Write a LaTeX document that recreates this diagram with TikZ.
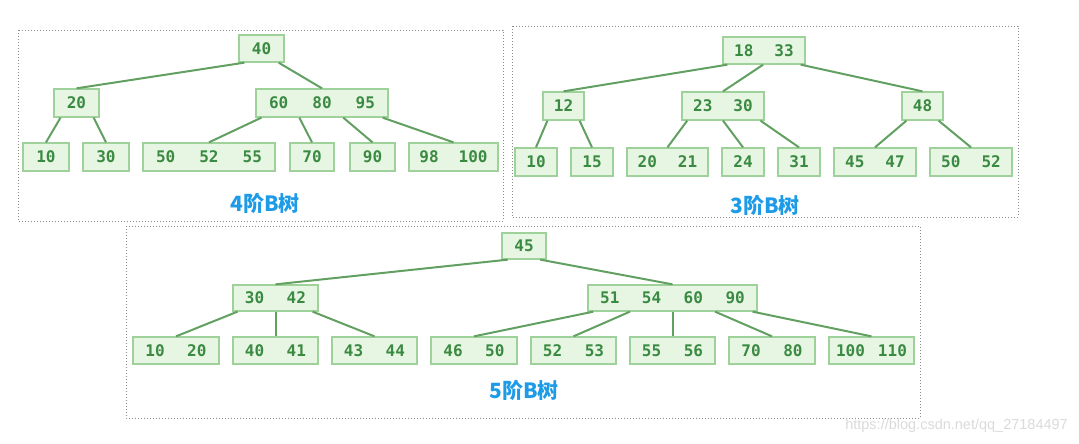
\documentclass[tikz,border=0pt]{standalone}
\usepackage{fontspec}
\usetikzlibrary{calc}
\newfontfamily\keyfont{DejaVu Sans Mono}
\newfontfamily\cjkfont{Noto Sans CJK SC}
\newfontfamily\wmfont{Liberation Sans}
\definecolor{bfill}{HTML}{E7F5E3}
\definecolor{bborder}{HTML}{9FD19A}
\definecolor{btext}{HTML}{3A8A42}
\definecolor{bedgecol}{HTML}{62A062}
\definecolor{tlabel}{HTML}{1E9BE6}
\definecolor{framecol}{HTML}{8C8C8C}
\definecolor{wmcol}{HTML}{DADADA}
\newcommand\kg[1]{\hspace{#1pt}}
\newcommand\bedgeline[3]{\draw[bedge] ($(#1.south west)!#2!(#1.south east)$) -- (#3.north);}
\begin{document}
\begin{tikzpicture}[x=1pt,y=-1pt,
  bnode/.style={draw=bborder, fill=bfill, line width=1.3pt, inner sep=0pt,
    minimum height=27pt, text=btext, font=\keyfont\bfseries\fontsize{16}{18}\selectfont},
  bedge/.style={draw=bedgecol, line width=2pt},
  frame/.style={draw=framecol, line width=0.8pt, dash pattern=on 0.8pt off 2.2pt},
  tlab/.style={text=tlabel, font=\cjkfont\bfseries\fontsize{21}{23}\selectfont, inner sep=0pt}]
\useasboundingbox (0,0) rectangle (1079,444);
% frames
\draw[frame] (18,30) rectangle (503,221);
\draw[frame] (512,26) rectangle (1018,217);
\draw[frame] (126,226) rectangle (920,418);
% ---------- tree 1 (order 4)
\node[bnode, minimum width=45pt] (t1r) at (261.5,48.5) {40};
\node[bnode, minimum width=45pt, minimum height=28pt] (t1a) at (76.5,103) {20};
\node[bnode, minimum width=132pt, minimum height=28pt] (t1b) at (322,103) {60\kg{24}80\kg{24}95};
\node[bnode, minimum width=46pt, minimum height=28pt] (t1l1) at (46,157) {10};
\node[bnode, minimum width=46pt, minimum height=28pt] (t1l2) at (106,157) {30};
\node[bnode, minimum width=132pt, minimum height=28pt] (t1l3) at (209,157) {50\kg{24}52\kg{24}55};
\node[bnode, minimum width=44pt, minimum height=28pt] (t1l4) at (312,157) {70};
\node[bnode, minimum width=45pt, minimum height=28pt] (t1l5) at (372.5,157) {90};
\node[bnode, minimum width=89pt, minimum height=28pt] (t1l6) at (453.5,157) {98\kg{20}100};
\bedgeline{t1r}{0.13}{t1a}
\bedgeline{t1r}{0.87}{t1b}
\bedgeline{t1a}{0.155}{t1l1}
\bedgeline{t1a}{0.87}{t1l2}
\bedgeline{t1b}{0.045}{t1l3}
\bedgeline{t1b}{0.33}{t1l4}
\bedgeline{t1b}{0.66}{t1l5}
\bedgeline{t1b}{0.955}{t1l6}
\node[tlab] (lab1) at (265,203) {4阶B树};
% ---------- tree 2 (order 3)
\node[bnode, minimum width=82pt] (t2r) at (764,50.5) {18\kg{21}33};
\node[bnode, minimum width=41pt, minimum height=28pt] (t2a) at (563.5,106) {12};
\node[bnode, minimum width=82pt, minimum height=28pt] (t2b) at (723,106) {23\kg{21}30};
\node[bnode, minimum width=41pt, minimum height=28pt] (t2c) at (922.5,106) {48};
\node[bnode, minimum width=42pt, minimum height=28pt] (t2l1) at (536,162) {10};
\node[bnode, minimum width=42pt, minimum height=28pt] (t2l2) at (592,162) {15};
\node[bnode, minimum width=81pt, minimum height=28pt] (t2l3) at (667.5,162) {20\kg{21}21};
\node[bnode, minimum width=42pt, minimum height=28pt] (t2l4) at (743,162) {24};
\node[bnode, minimum width=42pt, minimum height=28pt] (t2l5) at (799,162) {31};
\node[bnode, minimum width=82pt, minimum height=28pt] (t2l6) at (875,162) {45\kg{21}47};
\node[bnode, minimum width=82pt, minimum height=28pt] (t2l7) at (971,162) {50\kg{21}52};
\bedgeline{t2r}{0.06}{t2a}
\bedgeline{t2r}{0.49}{t2b}
\bedgeline{t2r}{0.94}{t2c}
\bedgeline{t2a}{0.12}{t2l1}
\bedgeline{t2a}{0.88}{t2l2}
\bedgeline{t2b}{0.07}{t2l3}
\bedgeline{t2b}{0.5}{t2l4}
\bedgeline{t2b}{0.95}{t2l5}
\bedgeline{t2c}{0.12}{t2l6}
\bedgeline{t2c}{0.88}{t2l7}
\node[tlab] (lab2) at (765,205) {3阶B树};
% ---------- tree 3 (order 5)
\node[bnode, minimum width=44pt, minimum height=26pt] (t3r) at (524,246) {45};
\node[bnode, minimum width=85pt, minimum height=26pt] (t3a) at (275.5,298) {30\kg{22.5}42};
\node[bnode, minimum width=169pt, minimum height=26pt] (t3b) at (672.5,298) {51\kg{22.5}54\kg{22.5}60\kg{22.5}90};
\node[bnode, minimum width=86pt] (t3l1) at (176,350.5) {10\kg{22.5}20};
\node[bnode, minimum width=85pt] (t3l2) at (275.5,350.5) {40\kg{22.5}41};
\node[bnode, minimum width=85pt] (t3l3) at (374.5,350.5) {43\kg{22.5}44};
\node[bnode, minimum width=86pt] (t3l4) at (474,350.5) {46\kg{22.5}50};
\node[bnode, minimum width=85pt] (t3l5) at (573.5,350.5) {52\kg{22.5}53};
\node[bnode, minimum width=85pt] (t3l6) at (672.5,350.5) {55\kg{22.5}56};
\node[bnode, minimum width=86pt] (t3l7) at (772,350.5) {70\kg{22.5}80};
\node[bnode, minimum width=85pt] (t3l8) at (871.5,350.5) {100\kg{13}110};
\bedgeline{t3r}{0.14}{t3a}
\bedgeline{t3r}{0.86}{t3b}
\bedgeline{t3a}{0.06}{t3l1}
\bedgeline{t3a}{0.5}{t3l2}
\bedgeline{t3a}{0.93}{t3l3}
\bedgeline{t3b}{0.035}{t3l4}
\bedgeline{t3b}{0.25}{t3l5}
\bedgeline{t3b}{0.5}{t3l6}
\bedgeline{t3b}{0.75}{t3l7}
\bedgeline{t3b}{0.97}{t3l8}
\node[tlab] (lab3) at (524,390) {5阶B树};
% watermark
\node[text=wmcol, font=\wmfont\fontsize{14.5}{16}\selectfont, inner sep=0pt, anchor=east] (wm) at (1068,426) {https://blog.csdn.net/qq\_27184497};
\end{tikzpicture}
\end{document}
